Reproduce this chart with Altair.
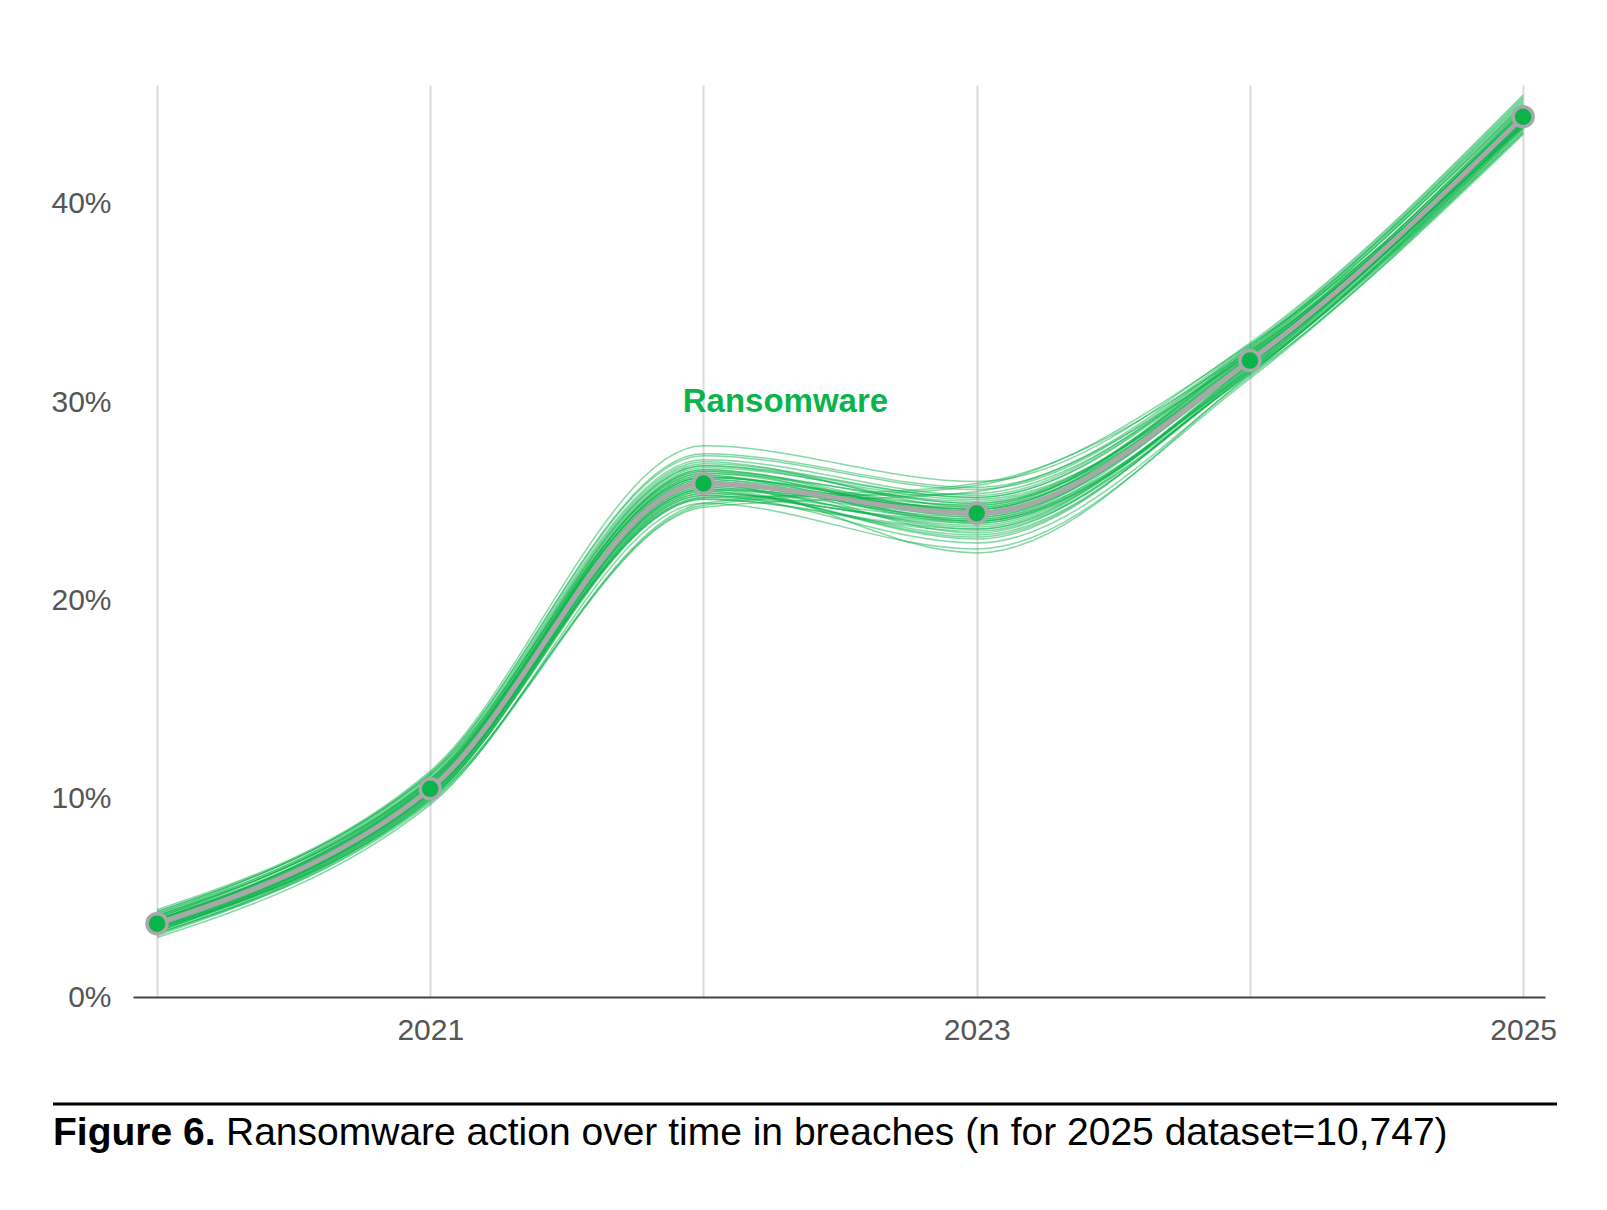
import altair as alt
import pandas as pd

YEARS = [2020, 2021, 2022, 2023, 2024, 2025]
MAIN = [3.7, 10.5, 25.9, 24.4, 32.1, 44.4]
SAMPLES = [
    [3.6, 10.4, 26.2, 24.6, 32.3, 44.6],
    [3.9, 10.8, 26.5, 24.9, 32.0, 44.0],
    [3.4, 10.1, 25.4, 23.8, 31.7, 44.1],
    [4.1, 11.0, 26.9, 25.2, 32.6, 45.0],
    [3.2, 10.0, 25.1, 23.5, 31.5, 43.8],
    [3.8, 10.6, 26.0, 24.1, 32.2, 44.5],
    [4.3, 11.3, 27.3, 25.6, 32.8, 45.3],
    [3.5, 10.3, 25.7, 24.3, 31.9, 44.2],
    [3.0, 9.7, 24.9, 22.6, 31.2, 43.6],
    [3.7, 10.7, 26.3, 24.0, 32.1, 44.7],
    [4.0, 10.9, 25.9, 24.8, 32.4, 44.3],
    [3.3, 10.2, 25.5, 23.2, 31.6, 43.9],
    [3.9, 10.5, 26.6, 24.5, 32.0, 44.8],
    [3.6, 10.4, 25.2, 25.4, 32.5, 44.4],
    [4.2, 11.1, 27.0, 24.7, 32.7, 45.1],
    [3.1, 9.9, 24.8, 25.8, 32.9, 44.0],
    [3.8, 10.6, 26.1, 23.9, 31.8, 44.3],
    [3.5, 10.2, 25.6, 24.2, 32.2, 44.6],
    [4.4, 11.4, 27.8, 26.0, 33.0, 45.5],
    [3.4, 10.0, 25.3, 22.9, 31.3, 43.7],
    [3.7, 10.5, 26.4, 24.4, 32.3, 44.5],
    [3.9, 10.8, 26.7, 25.1, 32.1, 44.2],
    [3.6, 10.3, 25.8, 23.6, 31.9, 44.0],
    [4.0, 11.0, 26.2, 24.6, 32.6, 44.9],
    [3.2, 9.8, 24.7, 25.5, 32.4, 43.9],
    [3.8, 10.7, 26.0, 24.0, 31.7, 44.4],
    [3.5, 10.4, 25.9, 22.4, 31.4, 44.1],
    [4.1, 11.2, 27.1, 25.3, 32.8, 45.2],
    [3.7, 10.5, 25.6, 24.7, 32.0, 44.3],
    [3.3, 10.1, 25.4, 24.1, 31.6, 43.8],
    [3.9, 10.9, 26.8, 24.9, 32.5, 44.7],
    [3.6, 10.6, 25.7, 23.7, 31.8, 44.5],
    [4.2, 11.2, 26.4, 25.0, 32.3, 44.9],
    [3.4, 10.3, 25.5, 23.3, 31.5, 43.6],
    [3.8, 10.4, 26.1, 24.5, 32.2, 44.2],
    [3.5, 9.9, 24.9, 25.9, 32.6, 44.1],
    [4.0, 10.8, 26.6, 24.3, 32.1, 44.6],
    [3.7, 10.6, 26.3, 23.4, 31.9, 44.0],
    [3.2, 10.0, 25.2, 24.0, 31.4, 43.5],
    [4.3, 11.3, 27.4, 25.7, 32.9, 45.4],
    [3.6, 10.5, 25.9, 24.6, 32.4, 44.8],
    [3.9, 10.7, 26.5, 24.2, 32.0, 44.3],
    [3.5, 10.2, 25.6, 23.1, 31.7, 44.2],
    [3.8, 10.9, 26.2, 24.8, 32.5, 44.6],
    [3.4, 10.1, 25.3, 23.9, 31.6, 43.9],
    [4.1, 11.0, 26.8, 25.2, 32.7, 45.0],
    [3.7, 10.4, 25.8, 24.4, 32.1, 44.4],
    [3.3, 10.3, 25.1, 23.6, 31.5, 44.0],
]
Y_TICKS = [0, 10, 20, 30, 40]
LABEL_TEXT = "Ransomware"
LABEL_POS = [2022.3, 30.0]
CAPTION_BOLD = "Figure 6."
CAPTION_REST = "Ransomware action over time in breaches (n for 2025 dataset=10,747)"

GREEN = "#0ab44a"
GRAY = "#a8a8a8"
FONT = "Liberation Sans"

rows = []
for i, s in enumerate(SAMPLES):
    for yr, v in zip(YEARS, s):
        rows.append({"sample": i, "year": yr, "value": v})
samples_df = pd.DataFrame(rows)
main_df = pd.DataFrame({"year": YEARS, "value": MAIN})
label_df = pd.DataFrame({"year": [LABEL_POS[0]], "value": [LABEL_POS[1]], "t": [LABEL_TEXT]})

xscale = alt.Scale(domain=[2019.912, 2025.08], nice=False, zero=False)
yscale = alt.Scale(domain=[0, 46], nice=False)

xaxis = alt.Axis(
    values=YEARS, grid=True, gridColor="#d9d9d9", gridWidth=2, ticks=False,
    domainColor="#444444", domainWidth=2, title=None,
    labelExpr="datum.value % 2 == 1 ? '' + datum.value : ''",
    labelFont=FONT, labelFontSize=30, labelColor="#555555", labelPadding=18,
)
yaxis = alt.Axis(
    values=Y_TICKS, grid=False, domain=False, ticks=False, title=None,
    labelExpr="datum.value + '%'", labelFont=FONT, labelFontSize=30,
    labelColor="#555555", labelPadding=22,
)

thin = alt.Chart(samples_df).mark_line(
    interpolate="monotone", color=GREEN, opacity=0.5, strokeWidth=1.5
).encode(
    x=alt.X("year:Q", scale=xscale, axis=xaxis),
    y=alt.Y("value:Q", scale=yscale, axis=yaxis),
    detail="sample:N",
)

main_line = alt.Chart(main_df).mark_line(
    interpolate="monotone", color=GRAY, strokeWidth=5
).encode(x=alt.X("year:Q", scale=xscale), y=alt.Y("value:Q", scale=yscale))

pts = alt.Chart(main_df).mark_point(
    filled=True, fill=GREEN, stroke=GRAY, strokeWidth=3.5, size=400, opacity=1
).encode(x=alt.X("year:Q", scale=xscale), y=alt.Y("value:Q", scale=yscale))

label = alt.Chart(label_df).mark_text(
    font=FONT, fontSize=33, fontWeight="bold", color=GREEN, align="center", baseline="middle"
).encode(x=alt.X("year:Q", scale=xscale), y=alt.Y("value:Q", scale=yscale), text="t:N")

rule = alt.Chart(pd.DataFrame({"a": [0]})).mark_rule(color="#000000", strokeWidth=3).encode(
    x=alt.value(-80), x2=alt.value(1424), y=alt.value(1019)
)
cap1 = alt.Chart(pd.DataFrame({"t": [CAPTION_BOLD]})).mark_text(
    font=FONT, fontSize=39, fontWeight="bold", color="#000000", align="left", baseline="alphabetic"
).encode(x=alt.value(-80), y=alt.value(1060), text="t:N")
cap2 = alt.Chart(pd.DataFrame({"t": [CAPTION_REST]})).mark_text(
    font=FONT, fontSize=39, color="#000000", align="left", baseline="alphabetic"
).encode(x=alt.value(93), y=alt.value(1060), text="t:N")

chart = alt.layer(thin, main_line, pts, label, rule, cap1, cap2).properties(
    width=1412, height=912,
    padding={"left": 125, "top": 77, "right": 50, "bottom": 200},
    autosize="none",
).configure_view(stroke=None)

chart.save("out.html", embed_options={"renderer": "svg", "actions": False})
